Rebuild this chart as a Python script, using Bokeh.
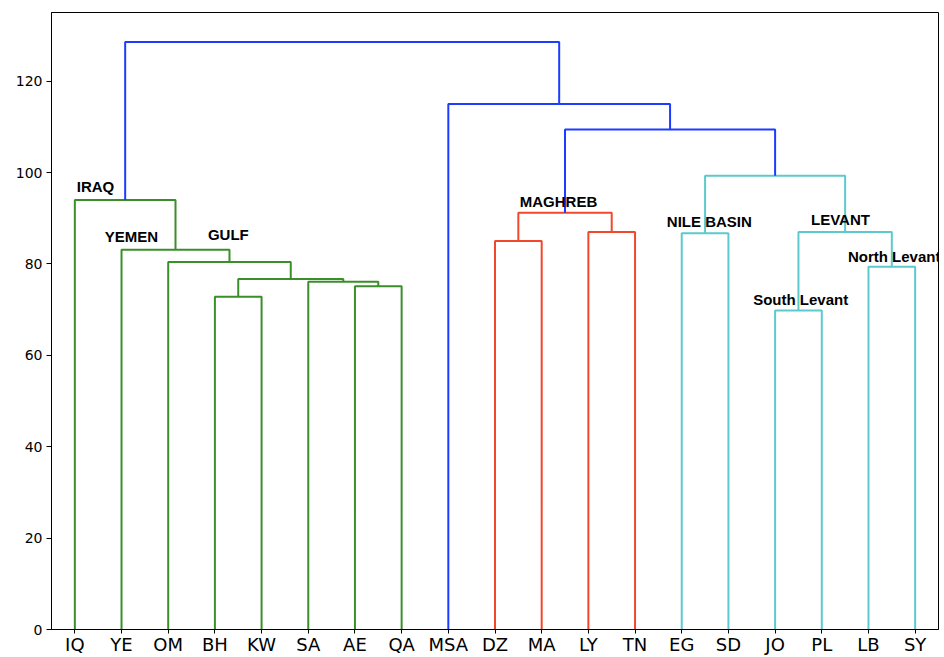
from bokeh.plotting import figure
from bokeh.models import FixedTicker, Label, Range1d
from bokeh.embed import file_html
from bokeh.resources import INLINE

# ---- data ----
leaves = ["IQ", "YE", "OM", "BH", "KW", "SA", "AE", "QA", "MSA", "DZ",
          "MA", "LY", "TN", "EG", "SD", "JO", "PL", "LB", "SY"]

# merges: ids 0..18 are leaves, new clusters get ids 19, 20, ...
merge_left = [3, 6, 5, 19, 2, 1, 0, 9, 11, 26, 13, 15, 17, 30, 29, 28, 8, 25]
merge_right = [4, 7, 20, 21, 22, 23, 24, 10, 12, 27, 14, 16, 18, 31, 32, 33, 34, 35]
merge_height = [72.8, 75.1, 76.1, 76.7, 80.4, 83.1, 94.0, 85.0, 87.0, 91.2,
                86.7, 69.8, 79.4, 87.0, 99.3, 109.4, 115.0, 128.6]
merge_group = ["gulf"] * 7 + ["maghreb"] * 3 + ["levant"] * 5 + ["root"] * 3

group_names = ["IRAQ", "YEMEN", "GULF", "MAGHREB", "NILE BASIN", "LEVANT",
               "North Levant", "South Levant"]
group_name_x = [5.4, 11.4, 33.5, 100.3, 131.8, 162.7, 170.6, 150.3]
group_name_y = [95.8, 84.9, 85.3, 92.6, 88.3, 88.7, 80.5, 71.2]

y_ticks = [0, 20, 40, 60, 80, 100, 120]

palette = {"gulf": "#3a8f2a", "maghreb": "#f2472b", "levant": "#5ccacd",
           "root": "#1c3cff"}

# ---- geometry from the linkage ----
node_x = [5 + 10 * i for i in range(len(leaves))]
node_y = [0.0] * len(leaves)
xs, ys, cols = [], [], []
for l, r, h, g in zip(merge_left, merge_right, merge_height, merge_group):
    xl, xr = node_x[l], node_x[r]
    xs.append([xl, xl, xr, xr])
    ys.append([node_y[l], h, h, node_y[r]])
    cols.append(palette[g])
    node_x.append((xl + xr) / 2)
    node_y.append(h)

top = max(merge_height) * 1.05

p = figure(width=944, height=657, output_backend="svg", toolbar_location=None,
           x_range=Range1d(0, 10 * len(leaves)), y_range=Range1d(0, top),
           min_border_left=51, min_border_right=6, min_border_top=12,
           min_border_bottom=28)
p.multi_line(xs=xs, ys=ys, line_color=cols, line_width=2)

for name, x, y in zip(group_names, group_name_x, group_name_y):
    p.add_layout(Label(x=x, y=y, y_offset=5, text=name,
                       text_font="Liberation Sans",
                       text_font_style="bold", text_font_size="15px",
                       text_color="black", text_baseline="alphabetic",
                       text_align="left"))

p.xgrid.visible = False
p.ygrid.visible = False
p.outline_line_color = "black"
p.outline_line_width = 1

p.xaxis.ticker = FixedTicker(ticks=[5 + 10 * i for i in range(len(leaves))])
p.xaxis.major_label_overrides = {5 + 10 * i: s for i, s in enumerate(leaves)}
p.yaxis.ticker = FixedTicker(ticks=y_ticks)
for ax in (p.xaxis[0], p.yaxis[0]):
    ax.axis_line_color = "black"
    ax.major_tick_line_color = "black"
    ax.major_tick_in = 0
    ax.minor_tick_line_color = None
    ax.major_label_text_font = "DejaVu Sans"
    ax.major_label_text_color = "black"
p.xaxis.major_tick_out = 4
p.xaxis.major_label_standoff = 0
p.xaxis.major_label_text_font_size = "18px"
p.yaxis.major_tick_out = 5
p.yaxis.major_label_standoff = 4
p.yaxis.major_label_text_font_size = "14px"

open("out.html", "w").write(file_html(p, INLINE))
